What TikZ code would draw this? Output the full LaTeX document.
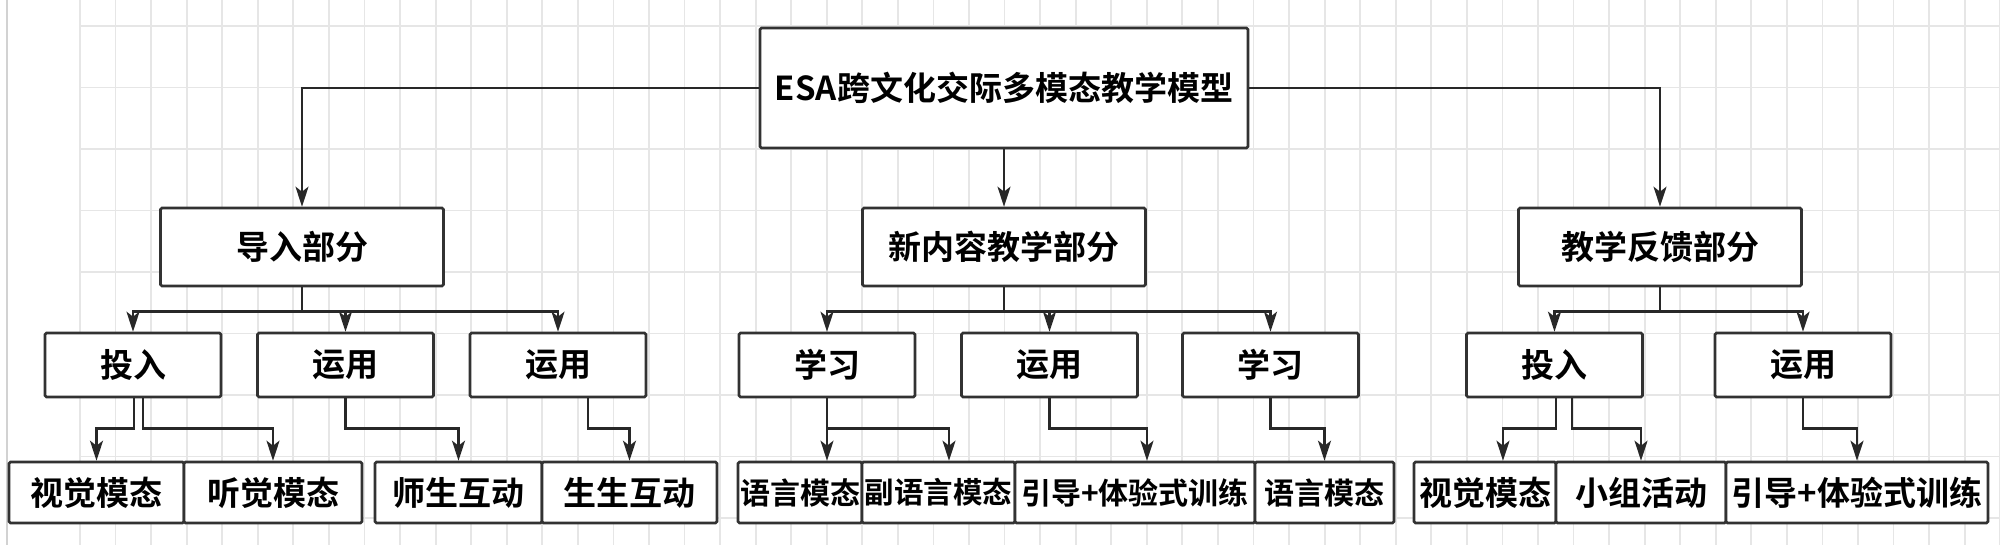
\documentclass[tikz,border=0pt]{standalone}
\usepackage{fontspec}
\setmainfont{Noto Sans CJK SC}[BoldFont={Noto Sans CJK SC Bold}]
\usetikzlibrary{arrows.meta,calc}
\definecolor{gridc}{RGB}{230,230,230}
\definecolor{leftc}{RGB}{210,210,210}
\definecolor{edgec}{RGB}{40,40,40}
\definecolor{boxc}{RGB}{50,50,50}
\newcommand{\zw}[1]{\makebox[0pt]{#1}}
\begin{document}
\begin{tikzpicture}[x=1pt,y=-1pt,
  gridline/.style={draw=gridc,line width=1.8pt},
  box/.style={draw=boxc,line width=2.6pt,fill=white,rectangle,rounded corners=1.5pt,
    inner sep=0pt,font=\fontsize{33}{36}\selectfont\bfseries,text=black},
  lvone/.style={box,minimum width=283,minimum height=78},
  lvtwo/.style={box,minimum width=176,minimum height=64},
  lvthree/.style={box,minimum height=61},
  small/.style={font=\fontsize{30}{34}\selectfont\bfseries},
  arr/.style={draw=edgec,line width=2.5pt,-{Stealth[length=20pt,width=13pt,inset=5pt]}},
]
\useasboundingbox (0,0) rectangle (2000,545);
\fill[white] (0,0) rectangle (2000,545);
% background grid
\foreach \i in {0,...,54} \draw[gridline] ({80+35.56*\i},0) -- ({80+35.56*\i},545);
\foreach \j in {0,...,8} \draw[gridline] (80,{26+61.5*\j}) -- (2000,{26+61.5*\j});
\draw[draw=leftc,line width=2pt] (7,0) -- (7,545);

% level 0
\node[box,minimum width=488,minimum height=120] (top) at (1004,88) {\zw{ESA跨文化交际多模态教学模型}};
% level 1
\node[lvone] (A) at (302,247) {导入部分};
\node[lvone] (B) at (1004,247) {新内容教学部分};
\node[lvone] (C) at (1660,247) {教学反馈部分};
% level 2
\node[lvtwo] (a1) at (133,365) {投入};
\node[lvtwo] (a2) at (345.5,365) {运用};
\node[lvtwo] (a3) at (558,365) {运用};
\node[lvtwo] (b1) at (827,365) {学习};
\node[lvtwo] (b2) at (1049.5,365) {运用};
\node[lvtwo] (b3) at (1270.5,365) {学习};
\node[lvtwo] (c1) at (1554.5,365) {投入};
\node[lvtwo] (c2) at (1803,365) {运用};
% level 3
\node[lvthree,minimum width=175] (d1) at (96.5,492.5) {\zw{视觉模态}};
\node[lvthree,minimum width=178] (d2) at (273,492.5) {\zw{听觉模态}};
\node[lvthree,minimum width=167] (d3) at (458.5,492.5) {\zw{师生互动}};
\node[lvthree,minimum width=175] (d4) at (629.5,492.5) {\zw{生生互动}};
\node[lvthree,small,minimum width=124] (e1) at (800,492.5) {\zw{语言模态}};
\node[lvthree,minimum width=153,font=\fontsize{29.5}{34}\selectfont\bfseries] (e2) at (938.5,492.5) {\zw{副语言模态}};
\node[lvthree,small,minimum width=240] (e3) at (1135,492.5) {\zw{引导+体验式训练}};
\node[lvthree,small,minimum width=139] (e4) at (1324.5,492.5) {\zw{语言模态}};
\node[lvthree,minimum width=142] (f1) at (1485,492.5) {\zw{视觉模态}};
\node[lvthree,minimum width=170] (f2) at (1641,492.5) {\zw{小组活动}};
\node[lvthree,minimum width=262] (f3) at (1857,492.5) {\zw{引导+体验式训练}};

% connectors level 0 -> 1
\draw[arr] (top.west) -| (A.north);
\draw[arr] (top.south) -- (B.north);
\draw[arr] (top.east) -| (C.north);
% level 1 -> 2
\draw[arr] (A.south) -- ++(0,24) -| (a1.north);
\draw[arr] (A.south) -- ++(0,24) -| (a2.north);
\draw[arr] (A.south) -- ++(0,24) -| (a3.north);
\draw[arr] (B.south) -- ++(0,24) -| (b1.north);
\draw[arr] (B.south) -- ++(0,24) -| (b2.north);
\draw[arr] (B.south) -- ++(0,24) -| (b3.north);
\draw[arr] (C.south) -- ++(0,24) -| (c1.north);
\draw[arr] (C.south) -- ++(0,24) -| (c2.north);
% level 2 -> 3
\draw[arr] ([xshift=1pt]a1.south) -- ++(0,30) -| (d1.north);
\draw[arr] ([xshift=10pt]a1.south) -- ++(0,30) -| (d2.north);
\draw[arr] (a2.south) -- ++(0,30) -| (d3.north);
\draw[arr] ([xshift=30pt]a3.south) -- ++(0,30) -| (d4.north);
\draw[arr] (b1.south) -- (b1.south |- e1.north);
\draw[arr] (b1.south) -- ++(0,30) -| ([xshift=10.5pt]e2.north);
\draw[arr] (b2.south) -- ++(0,30) -| ([xshift=12pt]e3.north);
\draw[arr] (b3.south) -- ++(0,30) -| (e4.north);
\draw[arr] ([xshift=1.5pt]c1.south) -- ++(0,30) -| ([xshift=18pt]f1.north);
\draw[arr] ([xshift=17.5pt]c1.south) -- ++(0,30) -| (f2.north);
\draw[arr] (c2.south) -- ++(0,30) -| (f3.north);
\end{tikzpicture}
\end{document}
